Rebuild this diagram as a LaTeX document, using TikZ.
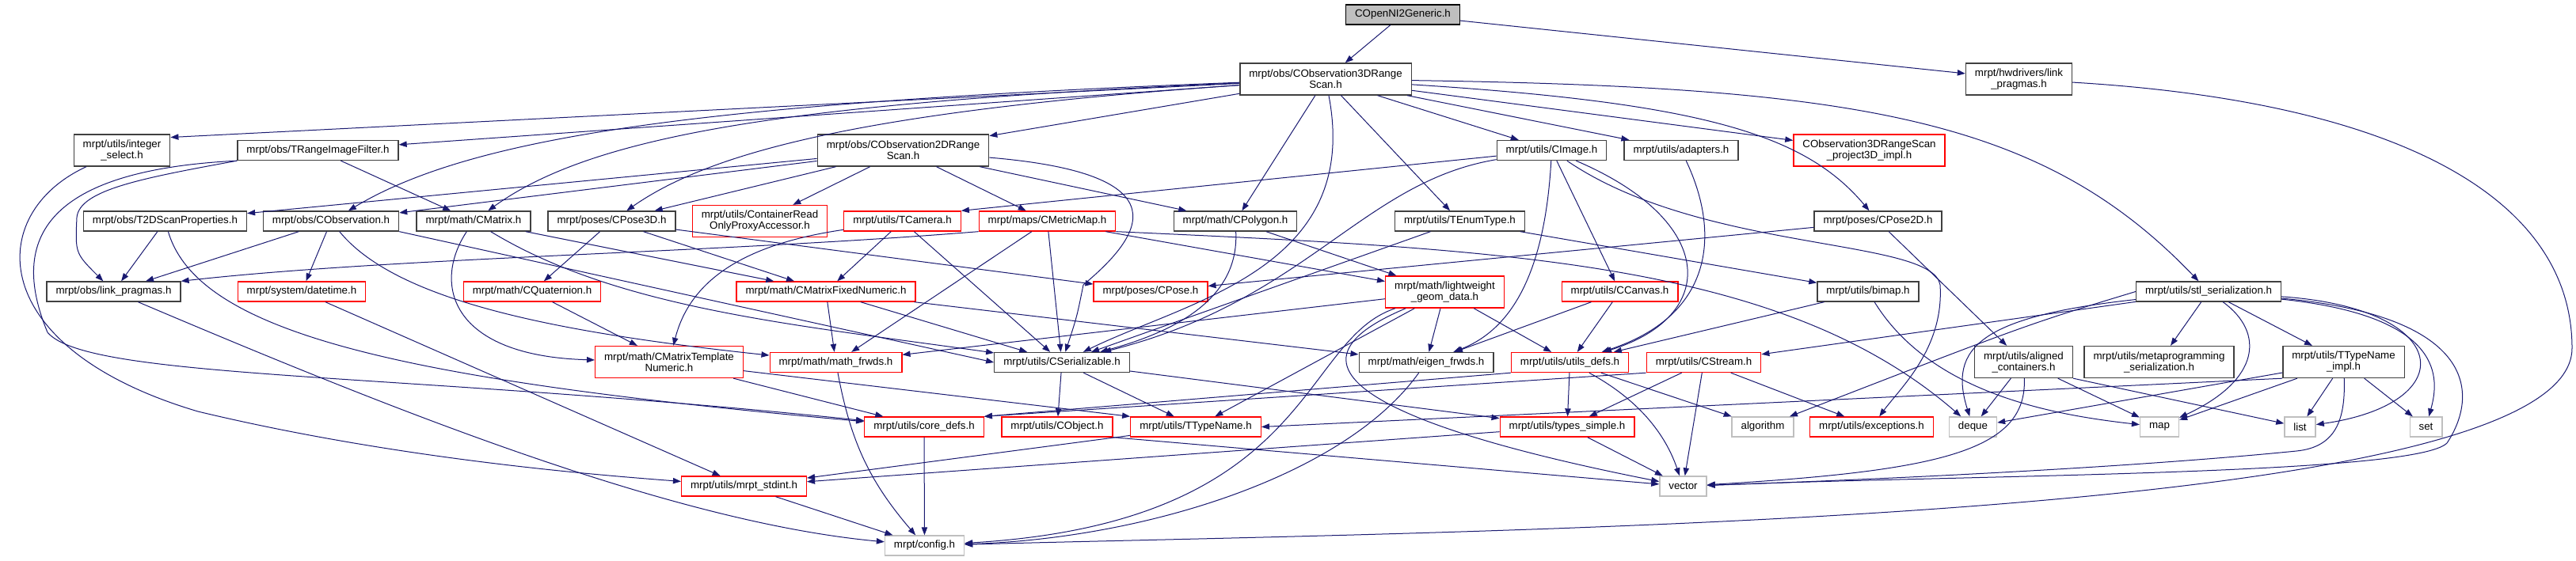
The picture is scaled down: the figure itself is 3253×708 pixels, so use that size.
\documentclass[tikz,border=0pt]{standalone}
\usepackage{fontspec}
\setmainfont{Liberation Sans}
\usetikzlibrary{arrows.meta}

\definecolor{edgeblue}{HTML}{191970}
\definecolor{docgray}{HTML}{404040}
\definecolor{hdrred}{HTML}{FF0000}
\definecolor{sysgray}{HTML}{BFBFBF}

\begin{document}
\begin{tikzpicture}[x=0.75pt, y=-0.75pt,
    every node/.style={font=\fontsize{10pt}{10.5pt}\selectfont, inner xsep=8.6pt, inner ysep=0pt, minimum height=18.75pt, align=center},
    hdr/.style={draw=docgray, line width=1pt, fill=white},
    redhdr/.style={draw=hdrred, line width=1pt, fill=white},
    syshdr/.style={draw=sysgray, line width=1pt, fill=white},
    rootnode/.style={draw=black, line width=1pt, fill=sysgray},
    twoln/.style={minimum height=30pt},
    dep/.style={->, draw=edgeblue, line width=0.75pt},
    >={Triangle[length=7.5pt,width=5.5pt]}]
    \useasboundingbox (0,0) rectangle (3253,708);

    % headers
    \node[rootnode] (gen) at (1771.5,18.5) {COpenNI2Generic.h};
    \node[hdr, twoln] (obsthreed) at (1674,100) {mrpt/obs/CObservation3DRange\\Scan.h};
    \node[hdr, twoln] (hwlink) at (2549.5,100) {mrpt/hwdrivers/link\\\_pragmas.h};

    \node[hdr, twoln] (intsel) at (154,190) {mrpt/utils/integer\\\_select.h};
    \node[hdr] (rangefilter) at (401.5,190) {mrpt/obs/TRangeImageFilter.h};
    \node[hdr, twoln] (obstwod) at (1140.5,190) {mrpt/obs/CObservation2DRange\\Scan.h};
    \node[hdr] (cimage) at (1959.5,190) {mrpt/utils/CImage.h};
    \node[hdr] (adapters) at (2123,190) {mrpt/utils/adapters.h};
    \node[redhdr, twoln] (projimpl) at (2360.5,190) {CObservation3DRangeScan\\\_project3D\_impl.h};

    \node[hdr] (tdscan) at (208.5,279.5) {mrpt/obs/T2DScanProperties.h};
    \node[hdr] (cobservation) at (418,279.5) {mrpt/obs/CObservation.h};
    \node[hdr] (cmatrix) at (598,279.5) {mrpt/math/CMatrix.h};
    \node[hdr] (cposethreed) at (772.5,279.5) {mrpt/poses/CPose3D.h};
    \node[redhdr, twoln] (proxyacc) at (959.5,279.5) {mrpt/utils/ContainerRead\\OnlyProxyAccessor.h};
    \node[redhdr] (tcamera) at (1139.5,279.5) {mrpt/utils/TCamera.h};
    \node[redhdr] (metricmap) at (1322.5,279.5) {mrpt/maps/CMetricMap.h};
    \node[hdr] (cpolygon) at (1560,279.5) {mrpt/math/CPolygon.h};
    \node[hdr] (tenumtype) at (1843.5,279.5) {mrpt/utils/TEnumType.h};
    \node[hdr] (cposetwod) at (2371.5,279.5) {mrpt/poses/CPose2D.h};

    \node[hdr] (obslink) at (143.5,368.5) {mrpt/obs/link\_pragmas.h};
    \node[redhdr] (datetime) at (381,368.5) {mrpt/system/datetime.h};
    \node[redhdr] (cquat) at (672,368.5) {mrpt/math/CQuaternion.h};
    \node[redhdr] (cmfixed) at (1043,368.5) {mrpt/math/CMatrixFixedNumeric.h};
    \node[redhdr] (cpose) at (1453,368.5) {mrpt/poses/CPose.h};
    \node[redhdr, twoln] (lightweight) at (1824.5,369) {mrpt/math/lightweight\\\_geom\_data.h};
    \node[redhdr] (ccanvas) at (2045.5,368.5) {mrpt/utils/CCanvas.h};
    \node[hdr] (bimap) at (2359,368.5) {mrpt/utils/bimap.h};
    \node[hdr] (stlser) at (2789,368.5) {mrpt/utils/stl\_serialization.h};

    \node[redhdr, twoln] (cmtemplate) at (845,457.5) {mrpt/math/CMatrixTemplate\\Numeric.h};
    \node[redhdr] (mathfrwds) at (1055.5,458) {mrpt/math/math\_frwds.h};
    \node[hdr] (cserial) at (1341,458) {mrpt/utils/CSerializable.h};
    \node[hdr] (eigenfrwds) at (1801,458) {mrpt/math/eigen\_frwds.h};
    \node[redhdr] (utilsdefs) at (1982.5,458) {mrpt/utils/utils\_defs.h};
    \node[redhdr] (cstream) at (2151.5,458) {mrpt/utils/CStream.h};
    \node[hdr, twoln] (aligned) at (2555.5,457.5) {mrpt/utils/aligned\\\_containers.h};
    \node[hdr, twoln] (metaprog) at (2726.5,457.5) {mrpt/utils/metaprogramming\\\_serialization.h};
    \node[hdr, twoln] (ttypeimpl) at (2959.5,457.5) {mrpt/utils/TTypeName\\\_impl.h};

    \node[redhdr] (coredefs) at (1167,539.5) {mrpt/utils/core\_defs.h};
    \node[redhdr] (cobject) at (1335,539.5) {mrpt/utils/CObject.h};
    \node[redhdr] (ttypename) at (1510,539.5) {mrpt/utils/TTypeName.h};
    \node[redhdr] (typessimple) at (1979,539.5) {mrpt/utils/types\_simple.h};
    \node[syshdr] (algorithm) at (2226,539.5) {algorithm};
    \node[redhdr] (exceptions) at (2363.5,539.5) {mrpt/utils/exceptions.h};
    \node[syshdr] (deque) at (2491.5,539.5) {deque};
    \node[syshdr] (map) at (2727,539.5) {map};
    \node[syshdr] (list) at (2904.5,539.5) {list};
    \node[syshdr] (set) at (3063.5,539.5) {set};

    \node[redhdr] (stdint) at (939.5,614.5) {mrpt/utils/mrpt\_stdint.h};
    \node[syshdr] (vector) at (2125.5,614.5) {vector};
    \node[syshdr] (config) at (1167.5,689.5) {mrpt/config.h};

    % includes
    \draw[dep] (gen) -- (obsthreed);
    \draw[dep] (gen) -- (hwlink);
    \draw[dep] (hwlink) .. controls (3050,130) and (3248,260) .. (3248,440) .. controls (3248,660) and (1900,670) .. (config);

    \draw[dep] (obsthreed) -- (intsel.15);
    \draw[dep] (obsthreed) -- (rangefilter);
    \draw[dep] (obsthreed) -- (obstwod);
    \draw[dep] (obsthreed) .. controls (900,130) and (600,170) .. (cobservation);
    \draw[dep] (obsthreed) .. controls (1000,130) and (750,170) .. (cmatrix);
    \draw[dep] (obsthreed) .. controls (1100,140) and (900,190) .. (cposethreed);
    \draw[dep] (obsthreed) -- (cpolygon);
    \draw[dep] (obsthreed) .. controls (1720,340) and (1500,380) .. (cserial);
    \draw[dep] (obsthreed) -- (tenumtype);
    \draw[dep] (obsthreed) -- (cimage);
    \draw[dep] (obsthreed) -- (adapters);
    \draw[dep] (obsthreed) -- (projimpl);
    \draw[dep] (obsthreed) .. controls (2150,130) and (2280,170) .. (cposetwod);
    \draw[dep] (obsthreed) .. controls (2350,110) and (2580,150) .. (stlser);

    \draw[dep] (intsel) .. controls (-20,270) and (-20,440) .. (250,520) .. controls (500,580) and (750,600) .. (stdint);

    \draw[dep] (rangefilter.south west) .. controls (180,225) and (100,240) .. (97,275) .. controls (95,320) .. (obslink);
    \draw[dep] (rangefilter) -- (cmatrix);
    \draw[dep] (rangefilter.south west) .. controls (60,215) and (10,300) .. (60,420) .. controls (110,480) and (500,470) .. (coredefs);

    \draw[dep] (obstwod) -- (tdscan);
    \draw[dep] (obstwod) -- (cobservation);
    \draw[dep] (obstwod) -- (cposethreed);
    \draw[dep] (obstwod) -- (proxyacc);
    \draw[dep] (obstwod) -- (metricmap);
    \draw[dep] (obstwod) -- (cpolygon);
    \draw[dep] (obstwod) .. controls (1500,220) and (1440,300) .. (1368,360) .. controls (1360,400) .. (cserial);

    \draw[dep] (tdscan) -- (obslink);
    \draw[dep] (tdscan) .. controls (250,420) and (500,480) .. (coredefs);

    \draw[dep] (cobservation) -- (obslink);
    \draw[dep] (cobservation) -- (datetime);
    \draw[dep] (cobservation) .. controls (500,380) and (700,420) .. (mathfrwds);
    \draw[dep] (cobservation.south east) -- (cserial.west);

    \draw[dep] (cmatrix) -- (cmfixed);
    \draw[dep] (cmatrix) .. controls (545,360) and (570,450) .. (cmtemplate);
    \draw[dep] (cmatrix) .. controls (780,390) and (1000,410) .. (cserial);

    \draw[dep] (cposethreed) -- (cquat);
    \draw[dep] (cposethreed) -- (cmfixed);
    \draw[dep] (cposethreed) -- (cpose);

    \draw[dep] (tcamera) -- (cmfixed);
    \draw[dep] (tcamera) .. controls (930,310) and (870,360) .. (cmtemplate);
    \draw[dep] (tcamera) -- (cserial);

    \draw[dep] (metricmap.south west) .. controls (900,320) and (500,325) .. (obslink.north east);
    \draw[dep] (metricmap) -- (mathfrwds);
    \draw[dep] (metricmap) -- (cserial);
    \draw[dep] (metricmap) -- (lightweight);
    \draw[dep] (metricmap.south east) .. controls (1900,315) and (2250,330) .. (deque);

    \draw[dep] (cpolygon) -- (lightweight);
    \draw[dep] (cpolygon) .. controls (1565,380) and (1480,420) .. (cserial);

    \draw[dep] (tenumtype) -- (bimap);
    \draw[dep] (tenumtype) -- (cserial);

    \draw[dep] (cimage) -- (tcamera.north east);
    \draw[dep] (cimage) .. controls (1720,230) and (1650,380) .. (cserial);
    \draw[dep] (cimage) -- (ccanvas);
    \draw[dep] (cimage) .. controls (1950,360) and (1900,420) .. (eigenfrwds);
    \draw[dep] (cimage) .. controls (2170,280) and (2170,400) .. (utilsdefs);
    \draw[dep] (cimage) .. controls (2150,320) and (2440,300) .. (2450,360) .. controls (2455,440) and (2400,490) .. (exceptions);

    \draw[dep] (adapters) .. controls (2175,300) and (2160,400) .. (utilsdefs);

    \draw[dep] (cposetwod) -- (cpose);
    \draw[dep] (cposetwod) -- (aligned);

    \draw[dep] (datetime) -- (stdint);
    \draw[dep] (cquat) -- (cmtemplate);
    \draw[dep] (obslink) .. controls (500,520) and (850,660) .. (config);

    \draw[dep] (cmfixed) -- (mathfrwds);
    \draw[dep] (cmfixed) -- (cserial);
    \draw[dep] (cmfixed) -- (eigenfrwds);

    \draw[dep] (lightweight) -- (mathfrwds);
    \draw[dep] (lightweight) -- (eigenfrwds);
    \draw[dep] (lightweight) -- (utilsdefs);
    \draw[dep] (lightweight) -- (ttypename);
    \draw[dep] (lightweight) .. controls (1560,480) and (1850,560) .. (vector);
    \draw[dep] (lightweight) .. controls (1640,430) and (1660,660) .. (config);

    \draw[dep] (ccanvas) -- (eigenfrwds);
    \draw[dep] (ccanvas) -- (utilsdefs);

    \draw[dep] (bimap) -- (utilsdefs);
    \draw[dep] (bimap) .. controls (2440,500) and (2600,525) .. (map);

    \draw[dep] (stlser) -- (cstream);
    \draw[dep] (stlser.west) .. controls (2560,410) .. (algorithm);
    \draw[dep] (stlser) .. controls (2500,400) and (2460,440) .. (deque);
    \draw[dep] (stlser) -- (metaprog);
    \draw[dep] (stlser) .. controls (2860,420) and (2855,480) .. (map);
    \draw[dep] (stlser) -- (ttypeimpl);
    \draw[dep] (stlser) .. controls (3100,390) and (3110,510) .. (list);
    \draw[dep] (stlser) .. controls (3090,400) and (3080,480) .. (set);
    \draw[dep] (stlser) .. controls (3130,400) and (3130,500) .. (3090,560) .. controls (3050,600) and (2500,600) .. (vector);

    \draw[dep] (cmtemplate) -- (coredefs);
    \draw[dep] (cmtemplate) -- (ttypename.north west);
    \draw[dep] (mathfrwds) to[bend right=15] (config);

    \draw[dep] (cserial) -- (cobject);
    \draw[dep] (cserial) -- (ttypename);
    \draw[dep] (cserial) -- (typessimple);

    \draw[dep] (eigenfrwds) .. controls (1700,600) and (1450,680) .. (config);

    \draw[dep] (utilsdefs.south west) -- (coredefs.north east);
    \draw[dep] (utilsdefs) -- (typessimple);
    \draw[dep] (utilsdefs) .. controls (2060,500) and (2100,540) .. (vector);
    \draw[dep] (utilsdefs) -- (algorithm);

    \draw[dep] (cstream.south west) -- (coredefs.north east);
    \draw[dep] (cstream) -- (typessimple);
    \draw[dep] (cstream) -- (vector);
    \draw[dep] (cstream) -- (exceptions);

    \draw[dep] (aligned) -- (deque);
    \draw[dep] (aligned) .. controls (2560,570) and (2450,595) .. (vector);
    \draw[dep] (aligned) -- (map);
    \draw[dep] (aligned.south east) -- (list);

    \draw[dep] (ttypeimpl.south west) -- (ttypename.east);
    \draw[dep] (ttypeimpl) -- (deque);
    \draw[dep] (ttypeimpl) -- (map);
    \draw[dep] (ttypeimpl) -- (list);
    \draw[dep] (ttypeimpl) -- (set);
    \draw[dep] (ttypeimpl) .. controls (2962,530) and (2950,565) .. (2900,570) .. controls (2700,590) and (2400,605) .. (vector);

    \draw[dep] (coredefs) -- (config);
    \draw[dep] (cobject.south east) -- (vector);
    \draw[dep] (ttypename) -- (stdint);
    \draw[dep] (typessimple) -- (stdint);
    \draw[dep] (typessimple) -- (vector);
    \draw[dep] (stdint) -- (config);
\end{tikzpicture}
\end{document}
